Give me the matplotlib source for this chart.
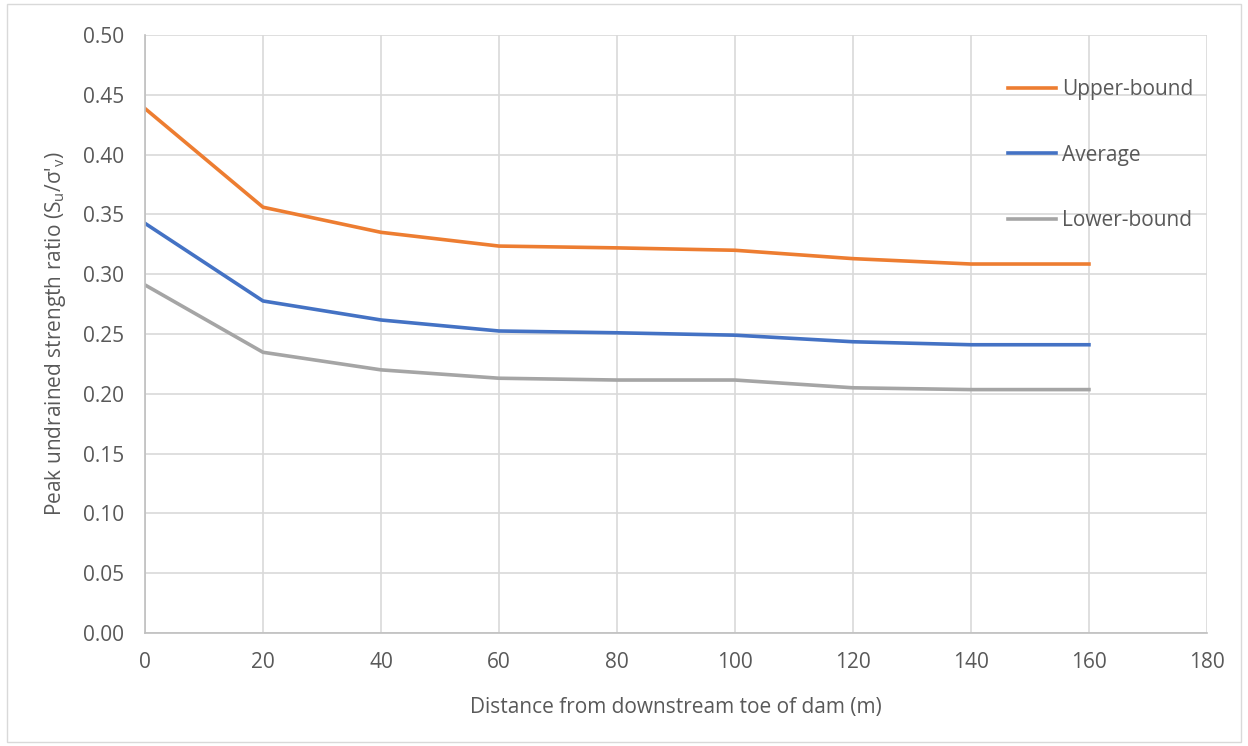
import matplotlib.pyplot as plt
from matplotlib.patches import Rectangle

plt.rcParams['font.family'] = ['Open Sans', 'DejaVu Sans']

# distance from toe (m)
dist = [0, 20, 40, 60, 80, 100, 120, 140, 160]
upper = [0.4385, 0.356, 0.335, 0.3235, 0.322, 0.320, 0.313, 0.3085, 0.3085]
average = [0.3425, 0.2776, 0.2617, 0.2525, 0.251, 0.249, 0.2435, 0.241, 0.241]
lower = [0.291, 0.2347, 0.220, 0.213, 0.2115, 0.2115, 0.205, 0.2035, 0.2035]

txt = '#595959'
fs = 15
fig = plt.figure(figsize=(12.48, 7.46), dpi=100)
ax = fig.add_axes([0.1162, 0.1515, 0.9671 - 0.1162, 0.9531 - 0.1515])

ax.plot(dist, upper, color='#ED7D31', lw=2.6, label='Upper-bound')
ax.plot(dist, average, color='#4472C4', lw=2.6, label='Average')
ax.plot(dist, lower, color='#A5A5A5', lw=2.6, label='Lower-bound')

ax.set_xlim(0, 180)
ax.set_ylim(0, 0.5)
ax.set_xticks(range(0, 181, 20))
ax.set_yticks([i * 0.05 for i in range(11)])
ax.set_yticklabels(['%.2f' % (i * 0.05) for i in range(11)])
ax.grid(True, color='#D9D9D9', lw=1.2)
ax.set_axisbelow(True)
for s in ['top', 'right']:
    ax.spines[s].set_visible(False)
for s in ['left', 'bottom']:
    ax.spines[s].set_color('#BFBFBF')
    ax.spines[s].set_linewidth(1.2)
ax.tick_params(axis='y', length=0, labelsize=fs, colors=txt, pad=15)
ax.tick_params(axis='x', length=0, labelsize=fs, colors=txt, pad=14)

ax.set_xlabel('Distance from downstream toe of dam (m)', fontsize=fs, color=txt, labelpad=17)
ax.set_ylabel(r"Peak undrained strength ratio (S$_\mathregular{u}$/σ'$_\mathregular{v}$)",
              fontsize=fs, color=txt, labelpad=11)

leg = ax.legend(loc='upper left', bbox_to_anchor=(0.795, 0.958), frameon=False,
                fontsize=fs, labelspacing=2.15, handlelength=2.3, handletextpad=0.3)
for t in leg.get_texts():
    t.set_color(txt)

fig.patches.append(Rectangle((0.006, 0.006), 0.988, 0.988, transform=fig.transFigure,
                             fill=False, edgecolor='#D9D9D9', lw=1))

fig.savefig('out.png', dpi=100)
